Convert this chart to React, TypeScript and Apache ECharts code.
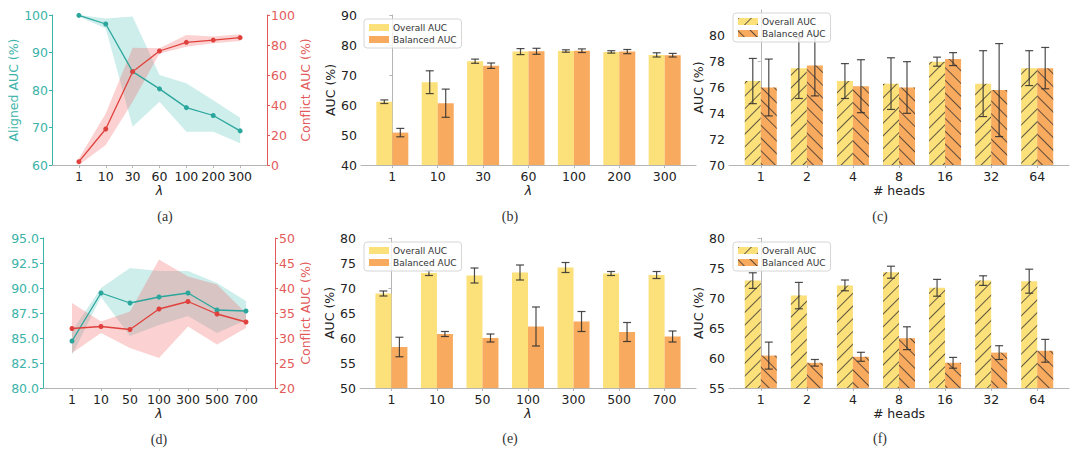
import React, { useEffect, useRef } from "react";
import * as echarts from "echarts";

// ---------- data ----------
const A_CATS = ["1", "10", "30", "60", "100", "200", "300"];
const A_ALIGNED = [99.9, 97.6, 84.9, 80.3, 75.3, 73.2, 69.1];
const A_ALIGNED_UP = [100, 99.1, 99.6, 84.0, 81.8, 77.3, 72.6];
const A_ALIGNED_LO = [99.6, 96.4, 70.2, 76.9, 68.9, 68.9, 65.8];
const A_CONFLICT = [2.2, 24.0, 62.2, 76.0, 81.8, 83.3, 84.9];
const A_CONFLICT_UP = [4.4, 34.4, 78.2, 77.8, 86.7, 85.6, 87.1];
const A_CONFLICT_LO = [0, 13.3, 42.2, 74.4, 78.9, 81.1, 82.7];

const B_CATS = ["1", "10", "30", "60", "100", "200", "300"];
const B_OVERALL = [61.1, 67.6, 74.6, 77.8, 78.0, 77.7, 76.7];
const B_OVERALL_ERR = [0.6, 3.8, 0.7, 1.0, 0.4, 0.4, 0.7];
const B_BALANCED = [50.8, 60.6, 73.1, 77.9, 78.1, 77.8, 76.6];
const B_BALANCED_ERR = [1.4, 4.7, 0.9, 1.0, 0.6, 0.7, 0.6];

const C_CATS = ["1", "2", "4", "8", "16", "32", "64"];
const C_OVERALL = [76.5, 77.5, 76.5, 76.3, 78.0, 76.3, 77.5];
const C_OVERALL_ERR = [1.75, 2.35, 1.35, 2.0, 0.35, 2.55, 1.35];
const C_BALANCED = [76.0, 77.7, 76.1, 76.0, 78.2, 75.8, 77.5];
const C_BALANCED_ERR = [2.2, 2.35, 2.05, 2.0, 0.5, 3.6, 1.6];

const D_CATS = ["1", "10", "50", "100", "300", "500", "700"];
const D_ALIGNED = [84.7, 89.5, 88.5, 89.1, 89.5, 87.8, 87.7];
const D_ALIGNED_UP = [85.7, 90.0, 92.0, 91.7, 91.7, 90.5, 88.7];
const D_ALIGNED_LO = [83.3, 89.1, 85.2, 86.3, 87.2, 85.5, 86.8];
const D_CONFLICT = [31.9, 32.3, 31.7, 35.8, 37.3, 34.8, 33.2];
const D_CONFLICT_UP = [37.0, 33.3, 35.3, 45.7, 42.3, 40.7, 35.0];
const D_CONFLICT_LO = [27.0, 31.0, 28.0, 26.0, 32.3, 28.7, 32.0];

const E_CATS = ["1", "10", "50", "100", "300", "500", "700"];
const E_OVERALL = [68.9, 73.0, 72.5, 73.1, 74.1, 72.9, 72.6];
const E_OVERALL_ERR = [0.5, 0.5, 1.5, 1.5, 1.0, 0.4, 0.7];
const E_BALANCED = [58.2, 60.8, 60.0, 62.3, 63.3, 61.2, 60.3];
const E_BALANCED_ERR = [1.95, 0.5, 0.8, 3.9, 2.0, 1.9, 1.1];

const F_CATS = ["1", "2", "4", "8", "16", "32", "64"];
const F_OVERALL = [72.9, 70.4, 72.1, 74.3, 71.7, 72.9, 72.8];
const F_OVERALL_ERR = [1.3, 2.2, 0.9, 1.0, 1.4, 0.8, 2.0];
const F_BALANCED = [60.4, 59.2, 60.2, 63.3, 59.2, 60.9, 61.2];
const F_BALANCED_ERR = [2.25, 0.55, 0.75, 1.9, 0.9, 1.15, 1.9];

const CAPTIONS = ["(a)", "(b)", "(c)", "(d)", "(e)", "(f)"];

// ---------- styles ----------
const TEAL = "#2BA69C";
const TEAL_TXT = "#3BB3A9";
const TEAL_BAND = "rgba(32,178,170,0.22)";
const RED = "#E0413C";
const RED_TXT = "#E25A5A";
const RED_BAND = "rgba(240,90,90,0.28)";
const YELLOW = "#FCE07A";
const ORANGE = "#F8AA5E";
const SPINE = "#b5b5b5";
const FONT = "DejaVu Sans";
const FS = 12.5;

const GRIDS = [
  { left: 52, top: 15, width: 215, height: 150 },
  { left: 361, top: 15, width: 335, height: 150 },
  { left: 729, top: 10, width: 340, height: 155 },
  { left: 43, top: 238, width: 232, height: 150 },
  { left: 360, top: 238, width: 336, height: 150 },
  { left: 729, top: 238, width: 340, height: 150 },
];

const idx = (n: number) => Array.from({ length: n }, (_, i) => i);

function lineXAxis(gi: number, cats: string[]) {
  const vals = idx(cats.length).map((i) => i + 1);
  return {
    type: "value",
    gridIndex: gi,
    min: 0,
    max: cats.length + 1,
    name: "λ",
    nameLocation: "middle",
    nameGap: 17,
    nameTextStyle: { fontSize: FS, color: "#222", fontStyle: "italic", fontFamily: FONT },
    axisLine: { show: true, onZero: false, lineStyle: { color: SPINE, width: 1 } },
    axisTick: { show: true, length: 3, customValues: vals, lineStyle: { color: SPINE } },
    axisLabel: {
      customValues: vals,
      fontSize: FS,
      color: "#222",
      margin: 5,
      formatter: (v: number) => cats[Math.round(v) - 1] ?? "",
    },
    splitLine: { show: false },
  };
}

function barXAxis(gi: number, cats: string[], name: string) {
  const vals = idx(cats.length);
  return {
    type: "value",
    gridIndex: gi,
    min: -0.69,
    max: cats.length - 1 + 0.69,
    name,
    nameLocation: "middle",
    nameGap: 17,
    nameTextStyle: {
      fontSize: FS,
      color: "#222",
      fontStyle: name === "λ" ? "italic" : "normal",
      fontFamily: FONT,
    },
    axisLine: { show: true, onZero: false, lineStyle: { color: SPINE, width: 1 } },
    axisTick: { show: true, length: 3, customValues: vals, lineStyle: { color: SPINE } },
    axisLabel: {
      customValues: vals,
      fontSize: FS,
      color: "#222",
      margin: 5,
      formatter: (v: number) => cats[Math.round(v)] ?? "",
    },
    splitLine: { show: false },
  };
}

function yAxis(
  gi: number,
  min: number,
  max: number,
  interval: number,
  opts: { name?: string; color?: string; txt?: string; pos?: string; gap?: number; dec?: number; hideMax?: boolean }
) {
  const color = opts.color ?? SPINE;
  const txt = opts.txt ?? "#222";
  const vals: number[] = [];
  const lastV = opts.hideMax ? max - interval : max;
  for (let v = min; v <= lastV + 1e-9; v += interval) vals.push(+v.toFixed(4));
  return {
    type: "value",
    gridIndex: gi,
    min,
    max,
    position: opts.pos ?? "left",
    name: opts.name ?? "",
    nameLocation: "middle",
    nameGap: opts.gap ?? 28,
    nameTextStyle: { fontSize: FS, color: txt, fontFamily: FONT },
    axisLine: { show: true, lineStyle: { color, width: 1 } },
    axisTick: { show: true, length: 3, customValues: vals, lineStyle: { color } },
    axisLabel: {
      customValues: vals,
      fontSize: FS,
      color: txt,
      margin: 4,
      formatter: (v: number) => (opts.dec ? v.toFixed(opts.dec) : String(v)),
    },
    splitLine: { show: false },
  };
}

function bandSeries(xi: number, yi: number, up: number[], lo: number[], color: string, z: number) {
  return {
    type: "custom",
    xAxisIndex: xi,
    yAxisIndex: yi,
    z,
    silent: true,
    data: up.map((u, i) => [i + 1, lo[i], u]),
    encode: { x: 0, y: [1, 2] },
    renderItem: (params: any, api: any) => {
      if (params.dataIndex !== 0) return null;
      const pts: number[][] = [];
      up.forEach((u, i) => pts.push(api.coord([i + 1, u])));
      for (let i = lo.length - 1; i >= 0; i--) pts.push(api.coord([i + 1, lo[i]]));
      return { type: "polygon", shape: { points: pts }, style: { fill: color } };
    },
  };
}

function lineSeries(xi: number, yi: number, vals: number[], color: string, name: string) {
  return {
    type: "line",
    name,
    xAxisIndex: xi,
    yAxisIndex: yi,
    z: 5,
    data: vals.map((v, i) => [i + 1, v]),
    symbol: "circle",
    symbolSize: 5,
    lineStyle: { color, width: 1.3 },
    itemStyle: { color },
  };
}

function errSeries(ai: number, vals: number[], errs: number[], dx: number) {
  return {
    type: "custom",
    xAxisIndex: ai,
    yAxisIndex: ai,
    z: 6,
    silent: true,
    data: vals.map((v, i) => [i, v, errs[i]]),
    encode: { x: 0, y: 1 },
    renderItem: (_p: any, api: any) => {
      const x = api.value(0);
      const y = api.value(1);
      const e = api.value(2);
      const t = api.coord([x, y + e]);
      const b = api.coord([x, y - e]);
      const cx = t[0] + dx;
      const st = { stroke: "rgba(45,45,45,0.85)", lineWidth: 1.2 };
      const cap = 4;
      return {
        type: "group",
        children: [
          { type: "line", shape: { x1: cx, y1: t[1], x2: cx, y2: b[1] }, style: st },
          { type: "line", shape: { x1: cx - cap, y1: t[1], x2: cx + cap, y2: t[1] }, style: st },
          { type: "line", shape: { x1: cx - cap, y1: b[1], x2: cx + cap, y2: b[1] }, style: st },
        ],
      };
    },
  };
}

const hatch = (rot: number) => ({
  symbol: "rect",
  symbolSize: 1,
  dashArrayX: [1, 0],
  dashArrayY: [0.9, 8],
  rotation: rot,
  color: "rgba(45,45,45,0.75)",
});

function barSeries(ai: number, vals: number[], color: string, name: string, decal?: any) {
  return {
    type: "bar",
    name,
    xAxisIndex: ai,
    yAxisIndex: ai,
    z: 2,
    barWidth: 16,
    barGap: "0%",
    data: vals.map((v, i) => [i, v]),
    itemStyle: decal ? { color, decal } : { color },
  };
}

function barLegend(suffix: string, left: number, top: number) {
  return {
    show: true,
    orient: "vertical",
    left,
    top,
    data: ["Overall AUC" + suffix, "Balanced AUC" + suffix],
    formatter: (n: string) => n.split("|")[0],
    icon: "rect",
    itemWidth: 20,
    itemHeight: 7,
    itemGap: 3,
    padding: [4, 5, 4, 5],
    backgroundColor: "rgba(255,255,255,0.8)",
    borderColor: "#d6d6d6",
    borderWidth: 1,
    borderRadius: 3,
    selectedMode: false,
    z: 10,
    textStyle: { fontSize: 9, color: "#333", fontFamily: FONT, padding: [0, 0, 0, -1] },
  };
}

function barPanel(
  gi: number,
  suffix: string,
  ov: number[],
  ovErr: number[],
  bal: number[],
  balErr: number[],
  hatched: boolean
) {
  return [
    barSeries(gi, ov, YELLOW, "Overall AUC" + suffix, hatched ? hatch(-Math.PI / 4) : undefined),
    barSeries(gi, bal, ORANGE, "Balanced AUC" + suffix, hatched ? hatch(Math.PI / 4) : undefined),
    errSeries(gi, ov, ovErr, -8),
    errSeries(gi, bal, balErr, 8),
  ];
}

const CAPTION_POS = [
  [165, 216],
  [510, 216],
  [880, 216],
  [159, 439],
  [510, 438],
  [880, 438],
];

export default function App() {
  const ref = useRef<HTMLDivElement>(null);
  useEffect(() => {
    if (!ref.current) return;
    const chart = echarts.init(ref.current, null, { renderer: "svg" });
    // axes indices: x 0..5 = panels; y 0..5 = panel main axes, y 6 = (a) right, y 7 = (d) right
    const option: any = {
      animation: false,
      backgroundColor: "#ffffff",
      textStyle: { fontFamily: FONT },
      grid: GRIDS.map((g) => ({ ...g, containLabel: false })),
      xAxis: [
        lineXAxis(0, A_CATS),
        barXAxis(1, B_CATS, "λ"),
        barXAxis(2, C_CATS, "# heads"),
        lineXAxis(3, D_CATS),
        barXAxis(4, E_CATS, "λ"),
        barXAxis(5, F_CATS, "# heads"),
      ],
      yAxis: [
        yAxis(0, 60, 100, 10, { name: "Aligned AUC (%)", color: TEAL_TXT, txt: TEAL_TXT, gap: 30 }),
        yAxis(1, 40, 90, 10, { name: "AUC (%)", gap: 24 }),
        yAxis(2, 70, 82, 2, { name: "AUC (%)", gap: 19, hideMax: true }),
        yAxis(3, 80, 95, 2.5, { color: TEAL_TXT, txt: TEAL_TXT, dec: 1 }),
        yAxis(4, 50, 80, 5, { name: "AUC (%)", gap: 23 }),
        yAxis(5, 55, 80, 5, { name: "AUC (%)", gap: 19 }),
        yAxis(0, 0, 100, 20, { name: "Conflict AUC (%)", color: RED_TXT, txt: RED_TXT, pos: "right", gap: 28 }),
        yAxis(3, 20, 50, 5, { name: "Conflict AUC (%)", color: RED_TXT, txt: RED_TXT, pos: "right", gap: 20 }),
      ],
      legend: [
        barLegend("|b", 364, 19),
        barLegend("|c", 733, 13),
        barLegend("|e", 364, 242),
        barLegend("|f", 733, 242),
      ],
      series: [
        // (a)
        bandSeries(0, 0, A_ALIGNED_UP, A_ALIGNED_LO, TEAL_BAND, 1),
        bandSeries(0, 6, A_CONFLICT_UP, A_CONFLICT_LO, RED_BAND, 2),
        lineSeries(0, 0, A_ALIGNED, TEAL, "Aligned (a)"),
        lineSeries(0, 6, A_CONFLICT, RED, "Conflict (a)"),
        // (d)
        bandSeries(3, 3, D_ALIGNED_UP, D_ALIGNED_LO, TEAL_BAND, 1),
        bandSeries(3, 7, D_CONFLICT_UP, D_CONFLICT_LO, RED_BAND, 2),
        lineSeries(3, 3, D_ALIGNED, TEAL, "Aligned (d)"),
        lineSeries(3, 7, D_CONFLICT, RED, "Conflict (d)"),
        // bars
        ...barPanel(1, "|b", B_OVERALL, B_OVERALL_ERR, B_BALANCED, B_BALANCED_ERR, false),
        ...barPanel(2, "|c", C_OVERALL, C_OVERALL_ERR, C_BALANCED, C_BALANCED_ERR, true),
        ...barPanel(4, "|e", E_OVERALL, E_OVERALL_ERR, E_BALANCED, E_BALANCED_ERR, false),
        ...barPanel(5, "|f", F_OVERALL, F_OVERALL_ERR, F_BALANCED, F_BALANCED_ERR, true),
      ],
      graphic: CAPTIONS.map((c, i) => ({
        type: "text",
        x: CAPTION_POS[i][0],
        y: CAPTION_POS[i][1],
        style: {
          text: c,
          fontFamily: "Liberation Serif",
          fontSize: 14,
          fill: "#333",
          textAlign: "center",
          textVerticalAlign: "middle",
        },
      })),
    };
    chart.setOption(option);
    return () => chart.dispose();
  }, []);
  return (
    <div
      ref={ref}
      style={{ position: "absolute", left: 0, top: 0, width: 1080, height: 453, background: "#fff" }}
    />
  );
}
